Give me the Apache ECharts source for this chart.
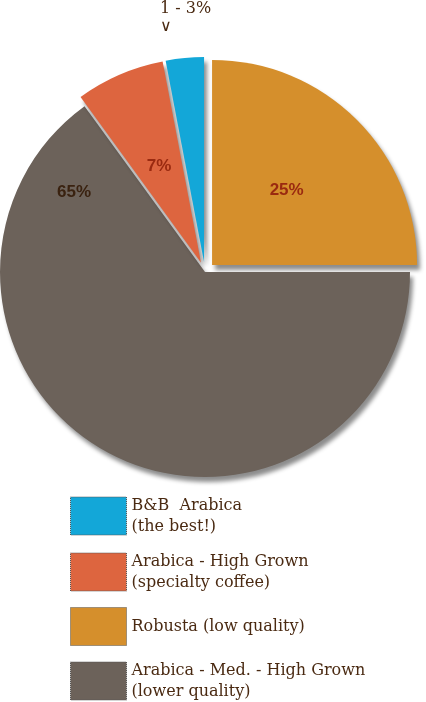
<!DOCTYPE html>
<html>
<head>
<meta charset="UTF-8">
<script src="https://cdn.jsdelivr.net/npm/echarts@6/dist/echarts.min.js"></script>
</head>
<body style="margin:0;background:#fff">
<div id="main" style="width:426px;height:702px;"></div>
<script type="text/javascript">
var names = ['Robusta (low quality)', 'Arabica - Med. - High Grown\n(lower quality)', 'Arabica - High Grown\n(specialty coffee)', 'B&B  Arabica\n(the best!)'];
var values = [25, 65, 7, 3];
var labels = ['25%', '65%', '7%', ''];
var colors = ['#d58f2c', '#6c625a', '#dd653f', '#13a7d8'];
var legendOrder = [3, 2, 0, 1];
// nudge the percentage labels toward the rim, as in the picture
var labelOffsets = [[-35, -72], [-83, -174], [-14, -50], [0, 0]];

var data = [];
for (var i = 0; i < names.length; i++) {
    data.push({
        name: names[i],
        value: values[i],
        selected: i != 1,
        itemStyle: { color: colors[i] },
        label: { formatter: labels[i], offset: labelOffsets[i], color: i == 1 ? '#3a2210' : '#9a2a10' }
    });
}

var myChart = echarts.init(document.getElementById('main'));
myChart.setOption({
    animation: false,
    legend: {
        orient: 'vertical',
        left: 65,
        top: 490,
        height: 230,
        itemWidth: 56,
        itemHeight: 38,
        itemGap: 14,
        icon: 'rect',
        selectedMode: false,
        data: legendOrder.map(function (k) { return names[k]; }),
        itemStyle: { borderColor: '#555', borderWidth: 1, borderType: 'dotted' },
        textStyle: { fontFamily: 'DejaVu Serif', fontSize: 16, color: '#4a2a12', lineHeight: 21 }
    },
    graphic: [{
        type: 'text', left: 160, top: 0,
        style: { text: '1 - 3%\n∨', fontFamily: 'DejaVu Serif', fontSize: 16, fill: '#4a2a12', align: 'center', lineHeight: 18 }
    }],
    series: [{
        type: 'pie',
        center: [205, 272],
        radius: [0, 205],
        startAngle: 90,
        selectedMode: 'multiple',
        selectedOffset: 10,
        label: { position: 'inner', fontFamily: 'Liberation Sans', fontSize: 17, fontWeight: 'bold' },
        labelLine: { show: false },
        itemStyle: { shadowColor: 'rgba(0,0,0,0.45)', shadowBlur: 4, shadowOffsetX: 3, shadowOffsetY: 5 },
        emphasis: { disabled: true },
        data: data
    }]
});
</script>
</body>
</html>
